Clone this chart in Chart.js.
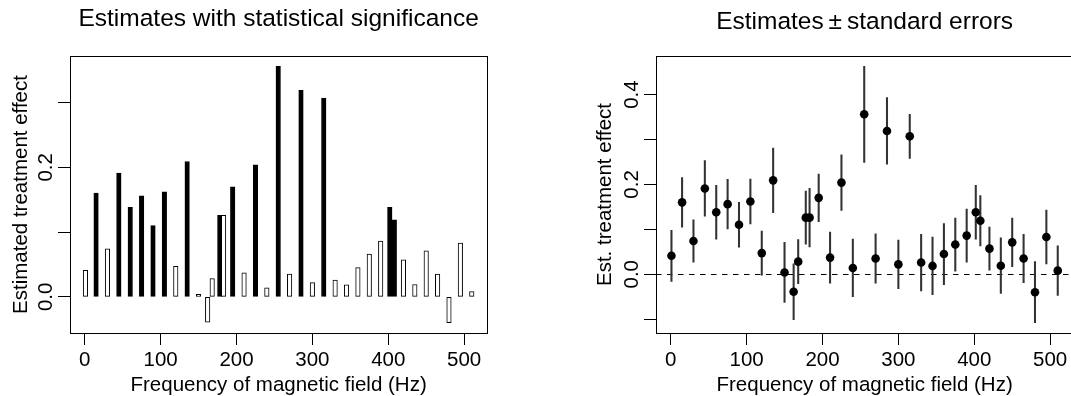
<!DOCTYPE html>
<html>
<head>
<meta charset="utf-8">
<script src="https://cdn.jsdelivr.net/npm/chart.js@4.4.0/dist/chart.umd.min.js"></script>
<style>
body { margin:0; width:1071px; height:396px; overflow:hidden; background:#fff; position:relative; }
#left { position:absolute; left:0; top:0; }
#right { position:absolute; left:536px; top:0; }
</style>
</head>
<body>
<canvas id="left" width="535" height="396"></canvas>
<canvas id="right" width="540" height="396"></canvas>
<script>
// frequencies (Hz), estimates, standard errors, significant or not
const freqs = [1, 15, 30, 45, 60, 75, 90, 105, 120, 135, 150, 162, 168, 178, 183, 195, 210, 225, 240, 255,
  270, 285, 300, 315, 330, 345, 360, 375, 390, 402, 408, 420, 435, 450, 465, 480, 495, 510];
const estimates = [0.041, 0.160, 0.074, 0.191, 0.138, 0.156, 0.110, 0.162, 0.047, 0.209, 0.004, -0.039, 0.028,
  0.126, 0.126, 0.170, 0.037, 0.204, 0.014, 0.356, 0.035, 0.319, 0.022, 0.307, 0.026, 0.0185, 0.045, 0.066,
  0.086, 0.138, 0.119, 0.057, 0.019, 0.071, 0.035, -0.040, 0.083, 0.008];
const stdErrors = [0.057, 0.055, 0.047, 0.062, 0.060, 0.055, 0.050, 0.050, 0.049, 0.072, 0.067, 0.062, 0.049,
  0.059, 0.065, 0.053, 0.057, 0.062, 0.064, 0.107, 0.055, 0.074, 0.054, 0.049, 0.063, 0.064, 0.068, 0.059,
  0.059, 0.060, 0.056, 0.048, 0.062, 0.054, 0.054, 0.068, 0.060, 0.055];
const significant = [0, 1, 0, 1, 1, 1, 1, 1, 0, 1, 0, 0, 0, 1, 0, 1, 0, 1, 0, 1,
  0, 1, 0, 1, 0, 0, 0, 0, 0, 1, 1, 0, 0, 0, 0, 0, 0, 0];

const xTicks = [0, 100, 200, 300, 400, 500];
const leftYTicks = [0, 0.1, 0.2, 0.3];
const leftYLabels = [0, 0.2];
const rightYTicks = [-0.1, 0, 0.1, 0.2, 0.3, 0.4];
const rightYLabels = [0, 0.2, 0.4];

const FONT = "'Liberation Sans', Arial, sans-serif";
Chart.defaults.font.family = FONT;
Chart.defaults.color = '#000';

// R style axis range: data range plus 4% each side
function rRange(lo, hi) {
  const d = (hi - lo) * 0.04;
  return [lo - d, hi + d];
}
const xr = rRange(Math.min(...freqs), Math.max(...freqs));
const lr = rRange(Math.min(...estimates), Math.max(...estimates));
const lows = estimates.map((e, i) => e - stdErrors[i]);
const highs = estimates.map((e, i) => e + stdErrors[i]);
const rr = rRange(Math.min(...lows), Math.max(...highs));

// box round the plot region
const boxPlugin = {
  id: 'box',
  afterDatasetsDraw(chart) {
    const a = chart.chartArea, ctx = chart.ctx;
    ctx.save();
    ctx.strokeStyle = '#000';
    ctx.lineWidth = 1;
    ctx.strokeRect(Math.round(a.left) + 0.5, Math.round(a.top) + 0.5,
      Math.round(a.right - a.left), Math.round(a.bottom - a.top));
    ctx.restore();
  }
};

// y tick labels turned 90 degrees like R does
const yLabelPlugin = {
  id: 'yLabels',
  afterDraw(chart, args, opts) {
    const ctx = chart.ctx, y = chart.scales.y;
    ctx.save();
    ctx.font = '20.5px ' + FONT;
    ctx.fillStyle = '#000';
    ctx.textAlign = 'center';
    ctx.textBaseline = 'middle';
    (opts.labels || []).forEach(v => {
      ctx.save();
      ctx.translate(chart.chartArea.left - 24, y.getPixelForValue(v));
      ctx.rotate(-Math.PI / 2);
      ctx.fillText(v.toFixed(1), 0, 0);
      ctx.restore();
    });
    ctx.restore();
  }
};

// dashed line at zero
const zeroLinePlugin = {
  id: 'zeroLine',
  beforeDatasetsDraw(chart, args, opts) {
    if (!opts.show) return;
    const ctx = chart.ctx, a = chart.chartArea;
    const y = Math.round(chart.scales.y.getPixelForValue(0)) + 0.5;
    ctx.save();
    ctx.strokeStyle = '#000';
    ctx.lineWidth = 1;
    ctx.setLineDash([5.5, 5.5]);
    ctx.beginPath();
    ctx.moveTo(a.left, y);
    ctx.lineTo(a.right, y);
    ctx.stroke();
    ctx.restore();
  }
};

function xScale() {
  return {
    type: 'linear',
    min: xr[0], max: xr[1],
    offset: false,
    afterBuildTicks: s => { s.ticks = xTicks.map(v => ({ value: v })); },
    afterFit: s => { s.height = 63; },
    grid: { offset: false, drawOnChartArea: false, drawTicks: true, tickLength: 12, color: '#000' },
    border: { display: false },
    ticks: { font: { size: 20.5 }, padding: 3, autoSkip: false, maxRotation: 0, minRotation: 0,
      callback: v => String(v) },
    title: { display: true, text: 'Frequency of magnetic field (Hz)', font: { size: 20.5, lineHeight: 1 },
      padding: { top: 0, bottom: 0.75 } }
  };
}

function yScale(range, ticks, width, label, titlePad) {
  return {
    type: 'linear',
    min: range[0], max: range[1],
    afterBuildTicks: s => { s.ticks = ticks.map(v => ({ value: v })); },
    afterFit: s => { s.width = width; },
    grid: { drawOnChartArea: false, drawTicks: true, tickLength: 12, color: '#000' },
    border: { display: false },
    ticks: { display: false },
    title: { display: true, text: label, font: { size: 20.5, lineHeight: 1 },
      padding: { top: titlePad, bottom: 0 } }
  };
}

new Chart(document.getElementById('left'), {
  type: 'bar',
  data: {
    datasets: [{
      data: freqs.map((f, i) => ({ x: f, y: estimates[i] })),
      backgroundColor: significant.map(s => s ? '#000' : '#fff'),
      borderColor: '#000',
      borderWidth: 1,
      borderSkipped: false,
      barThickness: 4.5
    }]
  },
  options: {
    responsive: false,
    animation: false,
    devicePixelRatio: 1,
    layout: { autoPadding: false, padding: { left: 0, right: 47.8, top: 0, bottom: 0 } },
    scales: {
      x: xScale(),
      y: yScale(lr, leftYTicks, 70, 'Estimated treatment effect', 10.95)
    },
    plugins: {
      legend: { display: false },
      tooltip: { enabled: false },
      title: { display: true, fullSize: false, text: 'Estimates with statistical significance',
        font: { size: 24.5, weight: 'normal', lineHeight: 1 }, color: '#000',
        padding: { top: 7, bottom: 24.5 } },
      yLabels: { labels: leftYLabels },
      zeroLine: { show: false }
    }
  },
  plugins: [boxPlugin, yLabelPlugin, zeroLinePlugin]
});

new Chart(document.getElementById('right'), {
  type: 'bar',
  data: {
    datasets: [{
      type: 'scatter',
      data: freqs.map((f, i) => ({ x: f, y: estimates[i] })),
      pointRadius: 4.3,
      pointBackgroundColor: '#000',
      pointBorderWidth: 0,
      order: 0
    }, {
      data: freqs.map((f, i) => ({ x: f, y: [lows[i], highs[i]] })),
      backgroundColor: '#333',
      borderWidth: 0,
      barThickness: 1.4,
      grouped: false,
      order: 1
    }]
  },
  options: {
    responsive: false,
    animation: false,
    devicePixelRatio: 1,
    layout: { autoPadding: false, padding: { left: 0, right: 2.8, top: 0, bottom: 0 } },
    scales: {
      x: xScale(),
      y: yScale(rr, rightYTicks, 120, 'Est. treatment effect', 58.95)
    },
    plugins: {
      legend: { display: false },
      tooltip: { enabled: false },
      title: { display: true, fullSize: false, text: 'Estimates\u2009\u00b1\u2009standard errors',
        font: { size: 24.5, weight: 'normal', lineHeight: 1 }, color: '#000',
        padding: { top: 9.75, bottom: 21.75 } },
      yLabels: { labels: rightYLabels },
      zeroLine: { show: true }
    }
  },
  plugins: [boxPlugin, yLabelPlugin, zeroLinePlugin]
});
</script>
</body>
</html>
